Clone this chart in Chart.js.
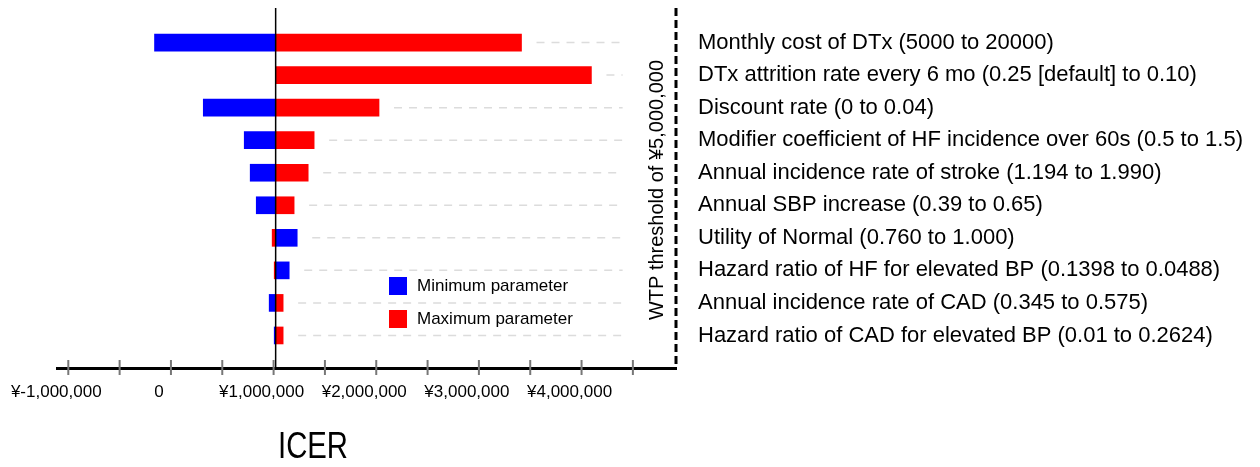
<!DOCTYPE html>
<html>
<head>
<meta charset="utf-8">
<script src="https://cdn.jsdelivr.net/npm/chart.js@4"></script>
<style>
  body { margin: 0; background: #fff; }
  #wrap { width: 1260px; height: 467px; }
</style>
</head>
<body>
<div id="wrap"><canvas id="tornado"></canvas></div>
<script>
// parameters, top to bottom
var labels = [
  "Monthly cost of DTx (5000 to 20000)",
  "DTx attrition rate every 6 mo (0.25 [default] to 0.10)",
  "Discount rate (0 to 0.04)",
  "Modifier coefficient of HF incidence over 60s (0.5 to 1.5)",
  "Annual incidence rate of stroke (1.194 to 1.990)",
  "Annual SBP increase (0.39 to 0.65)",
  "Utility of Normal (0.760 to 1.000)",
  "Hazard ratio of HF for elevated BP (0.1398 to 0.0488)",
  "Annual incidence rate of CAD (0.345 to 0.575)",
  "Hazard ratio of CAD for elevated BP (0.01 to 0.2624)"
];
var baseIcer = 1020000;
var wtp = 5000000;
// ICER at minimum / maximum parameter value
var minParam = [-160000, null, 315000, 714000, 772000, 831000, 1230000, 1152000, 957000, 1006000];
var maxParam = [3415000, 4096000, 2027000, 1395000, 1337000, 1200000, 986000, 1006000, 1093000, 1093000];
// tick marks every 500k, labels on whole millions
var xTickValues = [-1000000, -500000, 0, 500000, 1000000, 1500000, 2000000, 2500000, 3000000, 3500000, 4000000, 4500000];
var xTickLabels = [-1000000, 0, 1000000, 2000000, 3000000, 4000000];

function toBars(arr) {
  var out = arr.map(function(v) { return v == null ? null : [baseIcer, v]; });
  return [null].concat(out, [null]);   // empty half rows top and bottom
}

var extras = {
  id: 'extras',
  beforeDatasetsDraw: function(chart) {
    var ctx = chart.ctx, x = chart.scales.x, y = chart.scales.y;
    ctx.save();
    ctx.strokeStyle = '#dcdcdc';
    ctx.lineWidth = 1.5;
    ctx.setLineDash([8, 7]);
    labels.forEach(function(l, i) {
      var hi = Math.max(baseIcer, minParam[i] == null ? baseIcer : minParam[i], maxParam[i]);
      var py = y.getPixelForValue(i + 1);
      ctx.beginPath();
      ctx.moveTo(x.getPixelForValue(hi) + 15, py);
      ctx.lineTo(x.getPixelForValue(4400000), py);
      ctx.stroke();
    });
    ctx.restore();
  },
  afterDraw: function(chart) {
    var ctx = chart.ctx, x = chart.scales.x, a = chart.chartArea;
    ctx.save();
    // WTP threshold line (right edge of plot)
    ctx.strokeStyle = '#000';
    ctx.lineWidth = 3;
    ctx.setLineDash([8, 4]);
    ctx.beginPath();
    ctx.moveTo(a.right, a.top - 2);
    ctx.lineTo(a.right, a.bottom);
    ctx.stroke();
    ctx.setLineDash([]);
    // base case line
    var bx = x.getPixelForValue(baseIcer);
    ctx.lineWidth = 1.5;
    ctx.beginPath();
    ctx.moveTo(bx, a.top - 2);
    ctx.lineTo(bx, a.bottom);
    ctx.stroke();
    // tick marks crossing the axis
    ctx.strokeStyle = '#777';
    ctx.lineWidth = 2;
    x.ticks.forEach(function(t) {
      var px = x.getPixelForValue(t.value);
      ctx.beginPath();
      ctx.moveTo(px, a.bottom - 8);
      ctx.lineTo(px, a.bottom + 7);
      ctx.stroke();
    });
    // legend
    ctx.font = '17px "Liberation Sans", Arial, sans-serif';
    ctx.textBaseline = 'middle';
    ctx.textAlign = 'left';
    [['#0000ff', 'Minimum parameter', 277], ['#ff0000', 'Maximum parameter', 310]].forEach(function(e) {
      ctx.fillStyle = e[0];
      ctx.fillRect(389, e[2], 18, 18);
      ctx.fillStyle = '#000';
      ctx.fillText(e[1], 417, e[2] + 9);
    });
    // WTP label
    ctx.save();
    ctx.translate(a.right - 19, 190);
    ctx.rotate(-Math.PI / 2);
    ctx.textAlign = 'center';
    ctx.font = '20px "Liberation Sans", Arial, sans-serif';
    ctx.fillText('WTP threshold of \u00a55,000,000', 0, 0);
    ctx.restore();
    // axis title
    ctx.textAlign = 'center';
    ctx.textBaseline = 'alphabetic';
    ctx.font = '36px "Liberation Sans", Arial, sans-serif';
    ctx.fillText('ICER', 313, 458, 70);
    ctx.restore();
  }
};

new Chart(document.getElementById('tornado'), {
  type: 'bar',
  data: {
    labels: [''].concat(labels, ['']),
    datasets: [
      { label: 'Minimum parameter', data: toBars(minParam), backgroundColor: '#0000ff' },
      { label: 'Maximum parameter', data: toBars(maxParam), backgroundColor: '#ff0000' }
    ]
  },
  options: {
    indexAxis: 'y',
    responsive: true,
    maintainAspectRatio: false,
    animation: false,
    layout: { padding: { left: 57, top: 10, right: 0, bottom: 0 } },
    datasets: { bar: { grouped: false, barThickness: 17 } },
    plugins: { legend: { display: false }, tooltip: { enabled: false } },
    scales: {
      x: {
        type: 'linear',
        min: -1110000,
        max: 4920000,
        grid: { display: false, drawTicks: false },
        border: { display: true, color: '#000', width: 3 },
        afterBuildTicks: function(s) {
          s.ticks = xTickValues.map(function(v) { return { value: v }; });
        },
        ticks: {
          autoSkip: false,
          maxRotation: 0,
          minRotation: 0,
          padding: 14,
          labelOffset: -12,
          color: '#000',
          font: { family: '"Liberation Sans", Arial, sans-serif', size: 17 },
          callback: function(v) {
            if (xTickLabels.indexOf(v) < 0) return '';
            return v === 0 ? '0' : '\u00a5' + v.toLocaleString('en-US');
          }
        },
        afterFit: function(s) { s.height = 99; s.paddingLeft = 0; s.paddingRight = 0; }
      },
      y: {
        position: 'right',
        offset: false,
        grid: { display: false, drawTicks: false },
        border: { display: false },
        ticks: {
          padding: 22,
          autoSkip: false,
          color: '#000',
          font: { family: '"Liberation Sans", Arial, sans-serif', size: 22 }
        },
        afterFit: function(s) { s.width = 584; s.paddingTop = 0; s.paddingBottom = 0; }
      }
    }
  },
  plugins: [extras]
});
</script>
</body>
</html>
